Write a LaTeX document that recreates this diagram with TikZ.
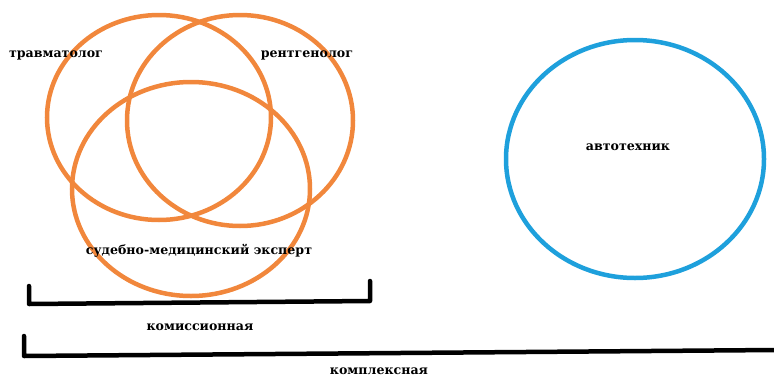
\documentclass[tikz,border=0pt]{standalone}
\usepackage{fontspec}
\setmainfont{DejaVu Serif}
\usepackage{xcolor}
\definecolor{venorange}{RGB}{241,135,60}
\definecolor{venblue}{RGB}{30,160,220}
\tikzset{
  ring/.style={draw=venorange, line width=4.5pt},
  ringB/.style={ring, draw=venblue},
  lbl/.style={font=\fontsize{12.6}{14}\selectfont\bfseries, inner sep=0pt, text=black},
  brk/.style={draw=black, line width=4.5pt, line cap=round, line join=round},
}

\begin{document}
\begin{tikzpicture}[x=1pt, y=-1pt]
  \useasboundingbox (0,0) rectangle (774,378);

  % ---- Circles ----
  \draw[ring] (159,117.5) ellipse [x radius=112, y radius=102.5];
  \draw[ring] (240,120.5) ellipse [x radius=113, y radius=105.5];
  \draw[ring] (191,189)   ellipse [x radius=119, y radius=107];
  \draw[ringB] (635,159) ellipse [x radius=129, y radius=119];

  % ---- Labels ----
  \node[lbl] (travm) at (56,55)  {травматолог};
  \node[lbl] (rentg) at (307,55) {рентгенолог};
  \node[lbl] (sudmed) at (199,251) {судебно-медицинский эксперт};
  \node[lbl] (avto) at (628,147) {автотехник};

  % ---- Brackets ----
  \coordinate (k1) at (29,286);
  \coordinate (k2) at (29,304);
  \coordinate (k3) at (370,301);
  \coordinate (k4) at (370,281);
  \draw[brk] (k1) -- (k2) -- (k3) -- (k4);
  \node[lbl] (komis) at (200,327) {комиссионная};

  \coordinate (p1) at (24,336);
  \coordinate (p2) at (24,356);
  \coordinate (p3) at (776,350);
  \draw[brk] (p1) -- (p2) -- (p3);
  \node[lbl] (kompl) at (379,371) {комплексная};
\end{tikzpicture}
\end{document}
